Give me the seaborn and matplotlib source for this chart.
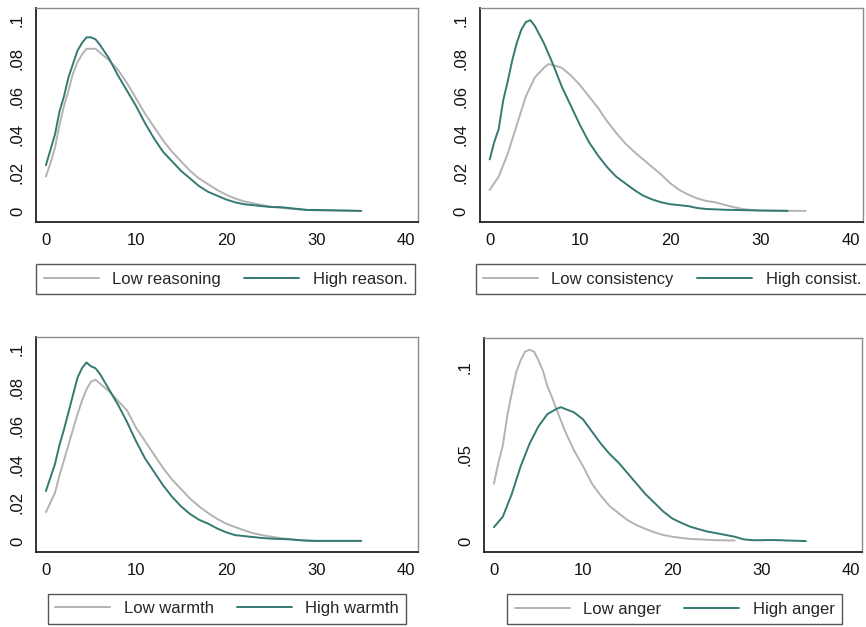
import matplotlib
matplotlib.use("Agg")
import matplotlib.pyplot as plt
import seaborn as sns
import pandas as pd

# ---- data (density curves) ----
x_reason = [0, 0.5, 1, 1.5, 2, 2.5, 3, 3.5, 4, 4.5, 5, 5.5, 6, 7, 8, 9, 10, 11, 12, 13, 14, 15,
            16, 17, 18, 19, 20, 21, 22, 23, 24, 25, 26, 27, 28, 29, 30, 32, 35]
low_reason = [.018, .025, .033, .045, .055, .063, .072, .078, .082, .085, .085, .085, .083, .079,
              .074, .067, .059, .051, .044, .037, .031, .026, .021, .017, .014, .011, .0085, .0065,
              .005, .004, .003, .0022, .0016, .0012, .0008, .0005, .0003, .0002, 0]
high_reason = [.024, .032, .040, .052, .060, .070, .077, .084, .088, .091, .091, .090, .087, .080,
               .071, .063, .055, .046, .038, .031, .026, .021, .017, .013, .010, .008, .006, .0045,
               .0035, .003, .0025, .002, .002, .0015, .001, .0005, .0005, .0003, 0]

x_consist_low = [0, 1, 2, 3, 4, 5, 6, 6.5, 7, 8, 9, 10, 11, 12, 13, 14, 15, 16, 17, 18, 19, 20,
                 21, 22, 23, 24, 25, 26, 27, 28, 29, 30, 32, 35]
low_consist = [.011, .018, .030, .045, .060, .070, .075, .077, .0765, .075, .071, .066, .060, .054,
               .047, .041, .0355, .031, .027, .023, .019, .0145, .011, .0085, .0065, .0052, .0045,
               .0032, .002, .001, .0005, .0002, .0001, 0]
x_consist_high = [0, 0.5, 1, 1.5, 2, 2.5, 3, 3.5, 4, 4.5, 5, 6, 7, 8, 9, 10, 11, 12, 13, 14, 15,
                  16, 17, 18, 19, 20, 21, 22, 23, 24, 25, 26, 27, 28, 30, 33]
high_consist = [.027, .036, .043, .058, .068, .079, .088, .095, .099, .100, .097, .088, .077, .065,
                .055, .045, .036, .029, .023, .018, .0145, .011, .008, .006, .0045, .0035, .003,
                .0025, .0015, .001, .0008, .0006, .0005, .0004, .0002, 0]

x_warmth = [0, 0.5, 1, 1.5, 2, 2.5, 3, 3.5, 4, 4.5, 5, 5.5, 6, 7, 8, 9, 10, 11, 12, 13, 14, 15,
            16, 17, 18, 19, 20, 21, 22, 23, 24, 25, 26, 27, 28, 29, 30, 35]
low_warmth = [.015, .020, .025, .034, .042, .050, .058, .066, .073, .079, .083, .084, .082, .078,
              .073, .068, .059, .052, .045, .038, .032, .027, .022, .018, .0145, .0115, .009,
              .0072, .0055, .004, .003, .0022, .0015, .001, .0005, .0002, 0, 0]
high_warmth = [.026, .033, .040, .050, .058, .067, .076, .085, .090, .093, .091, .090, .087, .079,
               .071, .062, .052, .043, .036, .029, .023, .018, .014, .011, .009, .0065, .0045,
               .003, .0025, .002, .0015, .0012, .001, .0008, .0004, .0001, 0, 0]

x_anger_low = [0, 0.5, 1, 1.5, 2, 2.5, 3, 3.5, 4, 4.5, 5, 5.5, 6, 6.5, 7, 8, 9, 10, 11, 12, 13,
               14, 15, 16, 17, 18, 19, 20, 21, 22, 23, 24, 25, 26, 27]
low_anger = [.033, .045, .055, .072, .085, .097, .104, .109, .110, .109, .104, .098, .089, .083,
             .076, .063, .052, .043, .033, .026, .020, .016, .012, .0092, .007, .005, .0035,
             .0025, .0018, .0012, .001, .0007, .0005, .0004, .0003]
x_anger_high = [0, 1, 2, 3, 4, 5, 6, 7, 7.5, 8, 9, 10, 11, 12, 13, 14, 15, 16, 17, 18, 19, 20,
                21, 22, 23, 24, 25, 26, 27, 28, 29, 30, 31, 32, 33, 35]
high_anger = [.008, .014, .027, .043, .056, .066, .073, .076, .077, .076, .074, .070, .063, .056,
              .050, .045, .039, .033, .027, .022, .017, .013, .0105, .0083, .0068, .0054, .0045,
              .0035, .0025, .001, .0005, .0005, .0006, .0005, .0003, 0]

panels = [
    ("Low reasoning", "High reason.", x_reason, low_reason, x_reason, high_reason),
    ("Low consistency", "High consist.", x_consist_low, low_consist, x_consist_high, high_consist),
    ("Low warmth", "High warmth", x_warmth, low_warmth, x_warmth, high_warmth),
    ("Low anger", "High anger", x_anger_low, low_anger, x_anger_high, high_anger),
]

GRAY = "#b3b3b3"
TEAL = "#347a72"

sns.set_style("white")
plt.rcParams['font.family'] = ['Liberation Sans', 'DejaVu Sans']

fig = plt.figure(figsize=(8.66, 6.27), dpi=100)

# axes boxes [left, bottom, width, height] in figure fraction
ax_pos = [
    [0.0416, 0.646, 0.441, 0.341],
    [0.554, 0.646, 0.442, 0.341],
    [0.0416, 0.1196, 0.441, 0.343],
    [0.559, 0.1196, 0.4365, 0.341],
]
# legend box centres in figure fraction
leg_ctr = [
    (0.2604, 0.5543),
    (0.7760, 0.5543),
    (0.2622, 0.0295),
    (0.7789, 0.0287),
]

for i, (lab_lo, lab_hi, xl, yl, xh, yh) in enumerate(panels):
    ax = fig.add_axes(ax_pos[i])
    df_lo = pd.DataFrame({"x": xl, "y": yl})
    df_hi = pd.DataFrame({"x": xh, "y": yh})
    sns.lineplot(data=df_lo, x="x", y="y", color=GRAY, lw=1.4, label=lab_lo, ax=ax)
    sns.lineplot(data=df_hi, x="x", y="y", color=TEAL, lw=1.4, label=lab_hi, ax=ax)

    ax.set_xlim(-1.1, 41.3)
    ax.set_xticks([0, 10, 20, 30, 40])
    if i == 3:
        ax.set_ylim(-0.0063, 0.1167)
        ax.set_yticks([0, 0.05, 0.1])
        ax.set_yticklabels(["0", ".05", ".1"])
    else:
        ax.set_ylim(-0.0058, 0.1063)
        ax.set_yticks([0, 0.02, 0.04, 0.06, 0.08, 0.1])
        ax.set_yticklabels(["0", ".02", ".04", ".06", ".08", ".1"])
    ax.set_xlabel("")
    ax.set_ylabel("")
    ax.tick_params(axis="both", direction="out", length=5, width=1, color="#222222",
                   labelsize=12, labelcolor="#111111", pad=3)
    for lbl in ax.get_yticklabels():
        lbl.set_rotation(90)
        lbl.set_va("center")
    for side in ["left", "bottom"]:
        ax.spines[side].set_color("#222222")
        ax.spines[side].set_linewidth(1.3)
    for side in ["top", "right"]:
        ax.spines[side].set_color("#8a8a8a")
        ax.spines[side].set_linewidth(1.0)

    leg = ax.legend(loc="center", bbox_to_anchor=leg_ctr[i], bbox_transform=fig.transFigure,
                    ncol=2, fontsize=12, frameon=True, fancybox=False,
                    edgecolor="#555555", framealpha=1, borderaxespad=0, handlelength=3.3,
                    handletextpad=0.8, columnspacing=1.4, borderpad=0.45)
    leg.get_frame().set_linewidth(1.0)

fig.savefig("out.png", dpi=100)
